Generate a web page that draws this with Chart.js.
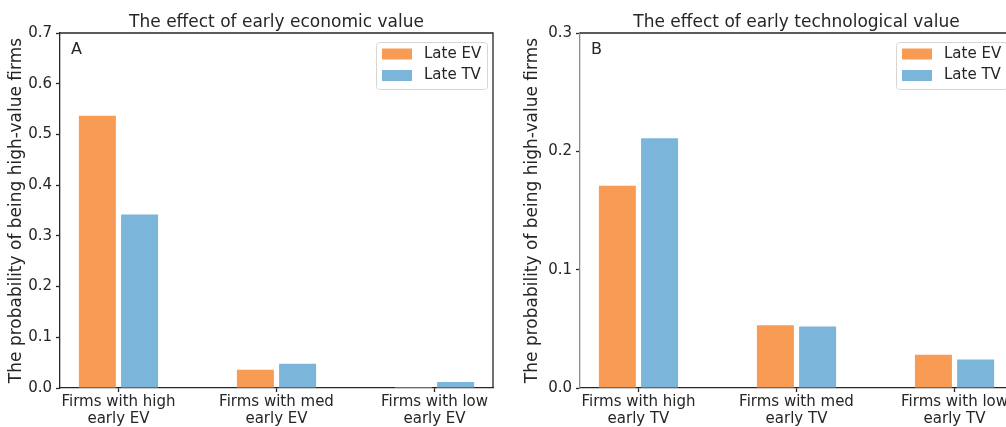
<!DOCTYPE html>
<html>
<head>
<meta charset="utf-8">
<script src="https://cdn.jsdelivr.net/npm/chart.js"></script>
<style>
  body { margin: 0; width: 1006px; height: 427px; overflow: hidden; background: #fff; position: relative; }
  canvas { position: absolute; top: 0; }
  #chartA { left: 0; }
  #chartB { left: 503px; }
</style>
</head>
<body>
<canvas id="chartA" width="503" height="427"></canvas>
<canvas id="chartB" width="512" height="427"></canvas>

<script>
// categories
const groupsA = [['Firms with high', 'early EV'], ['Firms with med', 'early EV'], ['Firms with low', 'early EV']];
const groupsB = [['Firms with high', 'early TV'], ['Firms with med', 'early TV'], ['Firms with low', 'early TV']];
const seriesNames = ['Late EV', 'Late TV'];

// share of high-value firms
const lateEV_A = [0.537, 0.036, 0.002];
const lateTV_A = [0.342, 0.048, 0.012];
const lateEV_B = [0.171, 0.053, 0.028];
const lateTV_B = [0.211, 0.052, 0.024];

// y ticks
const yMaxA = 0.7;
const yMaxB = 0.3;
const yStep = 0.1;

const ORANGE = '#f89b55';
const BLUE = '#7bb6da';
const INK = '#262626';

Chart.defaults.font.family = "'DejaVu Sans', sans-serif";
Chart.defaults.color = INK;

// title, panel letter, top/right spines and the boxed legend inside the axes
const panelDecor = {
  id: 'panelDecor',
  afterDraw(chart, args, opts) {
    const { ctx, chartArea: a } = chart;
    ctx.save();

    ctx.strokeStyle = INK;
    ctx.lineWidth = 1.3;
    ctx.beginPath();
    ctx.moveTo(a.left, a.top);
    ctx.lineTo(a.right, a.top);
    ctx.lineTo(a.right, a.bottom);
    ctx.stroke();

    ctx.fillStyle = INK;
    ctx.font = "17px 'DejaVu Sans'";
    ctx.textAlign = 'center';
    ctx.textBaseline = 'alphabetic';
    ctx.fillText(opts.title, (a.left + a.right) / 2, a.top - 6);

    ctx.font = "16px 'DejaVu Sans'";
    ctx.textAlign = 'left';
    ctx.textBaseline = 'middle';
    ctx.fillText(opts.letter, a.left + 11, a.top + 17);

    // legend
    const w = 111, h = 47;
    const bx = a.right - 6 - w, by = a.top + 9;
    ctx.fillStyle = 'rgba(255,255,255,0.8)';
    ctx.strokeStyle = '#d6d6d6';
    ctx.lineWidth = 1;
    ctx.beginPath();
    ctx.roundRect(bx + 0.5, by + 0.5, w, h, 3);
    ctx.fill();
    ctx.stroke();
    ctx.font = "15px 'DejaVu Sans'";
    chart.data.datasets.forEach((ds, i) => {
      const cy = by + 12 + i * 21.5;
      ctx.fillStyle = ds.backgroundColor;
      ctx.fillRect(bx + 6, cy - 5.5, 30, 11);
      ctx.fillStyle = INK;
      ctx.fillText(ds.label, bx + 48, cy);
    });
    ctx.restore();
  }
};

function makePanel(id, groups, evVals, tvVals, yMax, title, letter, yWidth, titlePad, rightPad, spineColor) {
  const toPoints = vals => vals.map((v, i) => ({ x: i, y: v }));
  new Chart(document.getElementById(id), {
    type: 'bar',
    data: {
      datasets: [
        { label: seriesNames[0], data: toPoints(evVals), backgroundColor: ORANGE },
        { label: seriesNames[1], data: toPoints(tvVals), backgroundColor: BLUE }
      ]
    },
    options: {
      responsive: false,
      animation: false,
      categoryPercentage: 0.534,
      barPercentage: 0.877,
      layout: { padding: { top: 33, left: 0, right: rightPad, bottom: 0 } },
      plugins: {
        legend: { display: false },
        tooltip: { enabled: false },
        panelDecor: { title: title, letter: letter }
      },
      scales: {
        x: {
          type: 'linear',
          min: -0.37,
          max: 2.37,
          offset: false,
          afterBuildTicks: s => { s.ticks = groups.map((g, i) => ({ value: i })); },
          afterFit: s => { s.height = 39; },
          ticks: {
            callback: v => groups[v],
            maxRotation: 0,
            autoSkip: false,
            padding: 2,
            font: { size: 15, lineHeight: 1.1 },
            color: INK
          },
          grid: { offset: false, drawOnChartArea: false, tickLength: 4, color: INK, tickWidth: 1.3 },
          border: { color: INK, width: 1.3 }
        },
        y: {
          min: 0,
          max: yMax,
          afterFit: s => { s.width = yWidth; },
          ticks: {
            stepSize: yStep,
            callback: v => v.toFixed(1),
            padding: 4,
            font: { size: 15 },
            color: INK
          },
          grid: { drawOnChartArea: false, tickLength: 4, color: INK, tickWidth: 1.3 },
          border: { color: spineColor, width: 1.3 },
          title: {
            display: true,
            text: 'The probability of being high-value firms',
            font: { size: 17 },
            color: INK,
            padding: { top: titlePad - 1, bottom: 0 }
          }
        }
      }
    },
    plugins: [panelDecor]
  });
}

makePanel('chartA', groupsA, lateEV_A, lateTV_A, yMaxA, 'The effect of early economic value', 'A', 60, 7, 10, INK);
makePanel('chartB', groupsB, lateEV_B, lateTV_B, yMaxB, 'The effect of early technological value', 'B', 77, 20, 2, '#8c8c8c');
</script>
</body>
</html>
